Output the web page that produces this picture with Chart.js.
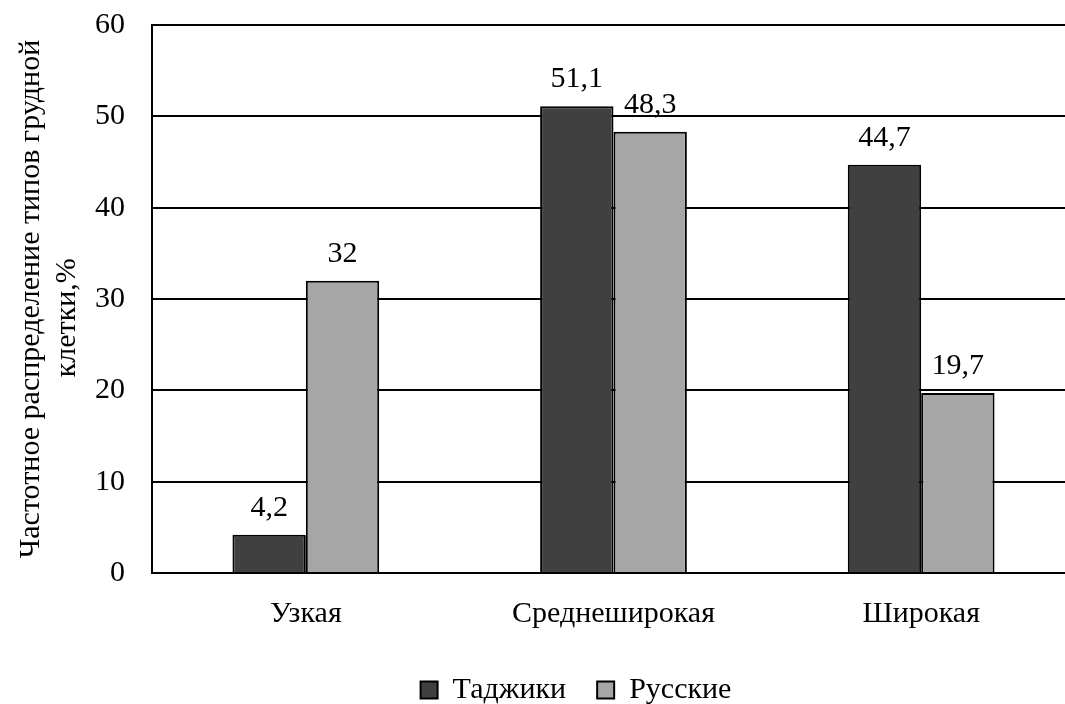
<!DOCTYPE html>
<html>
<head>
<meta charset="utf-8">
<script src="https://cdn.jsdelivr.net/npm/chart.js@4.4.0/dist/chart.umd.min.js"></script>
<style>
  html, body { margin: 0; padding: 0; background: #fff; overflow: hidden; }
  #wrap { position: relative; width: 1152px; height: 715px; }
</style>
</head>
<body>
<div id="wrap"><canvas id="chart"></canvas></div>
<script>
// Chest shape types and their share (%) in each group
const categories = ['Узкая', 'Среднеширокая', 'Широкая'];
const tajiks = [4.2, 51.1, 44.7];
const russians = [32, 48.3, 19.7];
const seriesNames = ['Таджики', 'Русские'];
const yTicks = [0, 10, 20, 30, 40, 50, 60];
const yTitle = ['Частотное распределение типов грудной', 'клетки,%\u00A0\u00A0\u00A0\u00A0\u00A0'];

const FONT = 'Liberation Serif, "Times New Roman", serif';
const FS = 30;

// Value labels above each bar, decimal comma
const valueLabels = {
  id: 'valueLabels',
  afterDatasetsDraw(chart) {
    const ctx = chart.ctx;
    ctx.save();
    ctx.font = FS + 'px ' + FONT;
    ctx.fillStyle = '#000';
    ctx.textAlign = 'center';
    ctx.textBaseline = 'alphabetic';
    chart.data.datasets.forEach((ds, i) => {
      chart.getDatasetMeta(i).data.forEach((bar, j) => {
        const txt = String(ds.data[j]).replace('.', ',');
        ctx.fillText(txt, bar.x, bar.y - 19);
      });
    });
    ctx.restore();
  }
};

new Chart(document.getElementById('chart'), {
  type: 'bar',
  data: {
    labels: categories,
    datasets: [
      { label: seriesNames[0], data: tajiks, backgroundColor: '#404040', borderColor: '#000', borderWidth: 2 },
      { label: seriesNames[1], data: russians, backgroundColor: '#a6a6a6', borderColor: '#000', borderWidth: 2 }
    ]
  },
  options: {
    responsive: true,
    maintainAspectRatio: false,
    animation: false,
    datasets: { bar: { barPercentage: 1, categoryPercentage: 0.477 } },
    layout: { padding: 0 },
    plugins: {
      tooltip: { enabled: false },
      legend: {
        position: 'bottom',
        labels: {
          font: { family: FONT, size: FS },
          color: '#000',
          boxWidth: 17,
          boxHeight: 17,
          padding: 31
        }
      }
    },
    scales: {
      x: {
        afterFit(scale) { scale.height = 71; },
        grid: { display: false, drawTicks: false },
        border: { display: true, color: '#000', width: 2 },
        ticks: { font: { family: FONT, size: FS }, color: '#000', padding: 23 }
      },
      y: {
        min: 0,
        max: 60,
        afterFit(scale) { scale.width = 152; },
        afterBuildTicks(scale) { scale.ticks = yTicks.map(v => ({ value: v })); },
        grid: { color: '#000', lineWidth: 2, drawTicks: true, tickLength: 20, tickColor: 'rgba(0,0,0,0)' },
        border: { display: true, color: '#000', width: 2 },
        ticks: { font: { family: FONT, size: FS }, color: '#000', padding: 7 },
        title: { display: true, text: yTitle, font: { family: FONT, size: FS, lineHeight: 1.2 }, color: '#000', padding: { top: 13, bottom: 0 } }
      },
      yRight: {
        position: 'right',
        display: true,
        grid: { display: false },
        border: { display: false },
        ticks: { display: false },
        afterFit(scale) { scale.width = 77; }
      }
    }
  },
  plugins: [valueLabels]
});
</script>
</body>
</html>
